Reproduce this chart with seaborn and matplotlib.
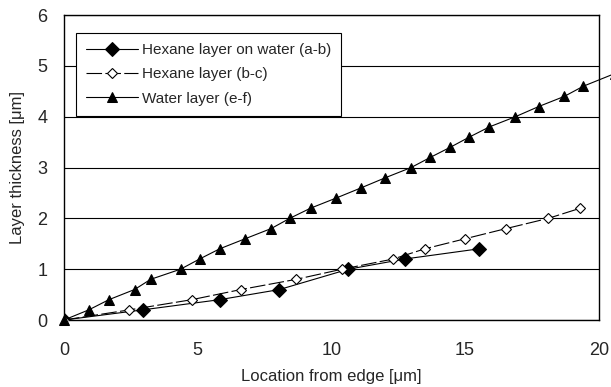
import matplotlib
matplotlib.use("Agg")
import matplotlib.pyplot as plt
import seaborn as sns
import pandas as pd

# Data
hex_ab_x = [0, 2.95, 5.82, 8.06, 10.64, 12.74, 15.51]
hex_ab_y = [0, 0.2, 0.4, 0.6, 1.0, 1.2, 1.4]

hex_bc_x = [0, 2.45, 4.78, 6.62, 8.68, 10.4, 12.31, 13.49, 15.01, 16.54, 18.11, 19.31]
hex_bc_y = [0, 0.2, 0.4, 0.6, 0.8, 1.0, 1.2, 1.4, 1.6, 1.8, 2.0, 2.2]

water_x = [0, 0.93, 1.68, 2.64, 3.24, 4.36, 5.07, 5.82, 6.78, 7.75, 8.44, 9.22,
           10.18, 11.11, 12.02, 12.98, 13.7, 14.45, 15.16, 15.91, 16.88, 17.75,
           18.71, 19.42, 20.6]
water_y = [0, 0.2, 0.4, 0.6, 0.8, 1.0, 1.2, 1.4, 1.6, 1.8, 2.0, 2.2,
           2.4, 2.6, 2.8, 3.0, 3.2, 3.4, 3.6, 3.8, 4.0, 4.2,
           4.4, 4.6, 4.85]

labels = ["Hexane layer on water (a-b)", "Hexane layer (b-c)", "Water layer (e-f)"]
x_ticks = [0, 5, 10, 15, 20]
y_ticks = [0, 1, 2, 3, 4, 5, 6]

sns.set_style("white")
plt.rcParams['font.family'] = ['Liberation Sans', 'DejaVu Sans']

fig = plt.figure(figsize=(6.11, 3.87), dpi=100)
ax = fig.add_axes([0.1047, 0.1731, 0.8753, 0.7879])

df_ab = pd.DataFrame({"x": hex_ab_x, "y": hex_ab_y})
df_bc = pd.DataFrame({"x": hex_bc_x, "y": hex_bc_y})
df_w = pd.DataFrame({"x": water_x, "y": water_y})

sns.lineplot(data=df_ab, x="x", y="y", ax=ax, sort=False, estimator=None,
             color="black", linewidth=0.8, marker="D", markersize=7.5,
             markerfacecolor="black", markeredgecolor="black", label=labels[0],
             zorder=4)
sns.lineplot(data=df_bc, x="x", y="y", ax=ax, sort=False, estimator=None,
             color="black", linewidth=0.8, linestyle=(0, (14, 3)), marker="D",
             markersize=5.5, markerfacecolor="white", markeredgecolor="black",
             markeredgewidth=0.8, label=labels[1], zorder=4)
sns.lineplot(data=df_w, x="x", y="y", ax=ax, sort=False, estimator=None,
             color="black", linewidth=0.8, marker="^", markersize=7,
             markerfacecolor="black", markeredgecolor="black", label=labels[2],
             zorder=4, clip_on=False)

ax.set_xlim(0, 20)
ax.set_ylim(0, 6)
ax.set_xticks(x_ticks)
ax.set_yticks(y_ticks)
ax.set_xticklabels([str(t) for t in x_ticks])
ax.set_yticklabels([str(t) for t in y_ticks])
ax.tick_params(axis="x", direction="in", length=6, width=0.8, color="#555555",
               labelsize=13, pad=16)
ax.tick_params(axis="y", length=0, labelsize=13, pad=12)
ax.yaxis.grid(True, color="black", linewidth=0.8)
ax.xaxis.grid(False)
ax.set_axisbelow(True)
for s in ax.spines.values():
    s.set_color("black")
    s.set_linewidth(1.0)

ax.set_xlabel("Location from edge [μm]", fontsize=12, labelpad=7)
ax.set_ylabel("Layer thickness [μm]", fontsize=12, labelpad=9)

leg = ax.legend(loc="upper left", bbox_to_anchor=(0.022, 0.941), fontsize=11,
                frameon=True, fancybox=False, edgecolor="black", framealpha=1,
                handlelength=3.4, handletextpad=0.3, borderpad=0.65,
                labelspacing=0.68, borderaxespad=0)
leg.get_frame().set_linewidth(0.8)

fig.savefig("out.png", dpi=100)
